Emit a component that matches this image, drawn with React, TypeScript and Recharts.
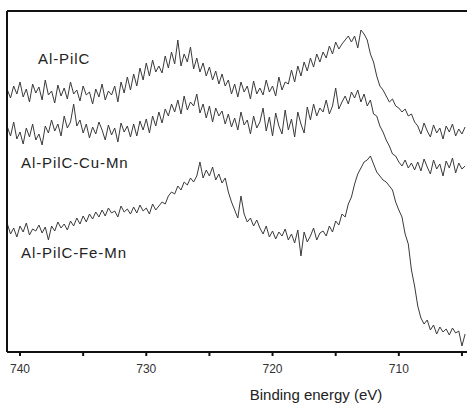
import React from "react";
import { LineChart, Line, XAxis, YAxis } from "recharts";

// Energy grid (eV): the scan starts at 741 eV and steps down by 0.25 eV
const energyStart = 741;
const energyStep = 0.25;

// Intensities (arbitrary units, offset per trace)
const alPilC = [
  262, 254, 266, 258, 270, 255, 263, 250, 268, 259,
  265, 252, 272, 257, 261, 249, 267, 256, 264, 253,
  270, 258, 262, 251, 266, 257, 260, 248, 263, 255,
  268, 252, 261, 257, 266, 250, 270, 259, 275, 262,
  278, 266, 284, 272, 289, 276, 292, 280, 286, 279,
  296, 284, 300, 288, 312, 286, 298, 290, 305, 283,
  294, 280, 289, 276, 285, 272, 281, 268, 278, 266,
  272, 258, 268, 255, 270, 260, 266, 253, 271, 258,
  264, 257, 272, 260, 266, 256, 275, 262, 270, 268,
  282, 270, 286, 276, 290, 281, 294, 285, 298, 290,
  300, 294, 306, 298, 310, 303, 308, 312, 316, 310,
  316, 304, 322, 318, 312, 298, 290, 276, 266, 262,
  256, 250, 253, 246, 244, 240, 243, 236, 238, 230,
  226, 218, 229, 221, 215, 227, 219, 224, 213, 226,
  220, 228, 216, 223, 218, 225,
];

const alPilCCuMn = [
  225, 216, 230, 213, 220, 208, 224, 215, 228, 212,
  218, 207, 226, 219, 232, 221, 228, 216, 236, 224,
  230, 248, 226, 232, 219, 228, 214, 225, 218, 230,
  222, 212, 227, 217, 224, 210, 229, 220, 226, 215,
  228, 216, 231, 222, 233, 219, 236, 226, 240, 229,
  243, 236, 248, 240, 252, 238, 256, 242, 250, 246,
  258, 239, 248, 234, 246, 230, 244, 236, 241, 228,
  238, 225, 234, 222, 240, 227, 232, 218, 236, 224,
  230, 244, 221, 235, 216, 239, 226, 218, 242, 222,
  233, 215, 240, 228, 219, 245, 232, 248, 236, 244,
  240, 252, 238, 246, 264, 243, 250, 256, 248, 260,
  254, 262, 250, 258, 246, 252, 238, 236, 226, 220,
  212, 206, 198, 196, 190, 186, 192, 184, 189, 182,
  190, 181, 193, 185, 178, 192, 183, 188, 176, 191,
  184, 194, 179, 189, 183, 186,
];

const alPilCFeMn = [
  128, 118, 124, 115, 126, 120, 129, 117, 123, 121,
  127, 119, 125, 112, 126, 121, 130, 124, 128, 122,
  131, 126, 134, 128, 136, 130, 138, 133, 140, 135,
  142, 136, 144, 139, 141, 135, 146, 140, 143, 138,
  145, 139, 147, 141, 144, 138, 148, 142, 146, 150,
  148, 156, 160, 158, 166, 162, 170, 167, 174, 170,
  176, 190, 174, 182, 176, 185, 172, 178, 169, 174,
  160, 150, 142, 134, 156, 138, 130, 134, 126, 132,
  124, 118, 126, 115, 121, 113, 120, 116, 123, 112,
  118, 109, 122, 96, 120, 110, 116, 124, 112, 119,
  121, 116, 126, 120, 131, 127, 138, 135, 148, 155,
  168, 178, 184, 190, 192, 196, 188, 180, 176, 172,
  170, 166, 162, 150, 142, 135, 118, 108, 82, 66,
  46, 34, 28, 32, 22, 27, 18, 25, 20, 23,
  17, 24, 19, 21, 6, 18,
];

const xTicks = [740, 735, 730, 725, 720, 715, 710, 705];
const seriesLabels = ["Al-PilC", "Al-PilC-Cu-Mn", "Al-PilC-Fe-Mn"];

const data = alPilC.map((v, i) => ({
  energy: energyStart - i * energyStep,
  a: v,
  b: alPilCCuMn[i],
  c: alPilCFeMn[i],
}));

const font = "'Liberation Sans', Arial, Helvetica, sans-serif";

const labelStyle: React.CSSProperties = {
  position: "absolute",
  fontFamily: font,
  fontSize: 15,
  letterSpacing: 0.9,
  color: "#222",
  lineHeight: "15px",
  whiteSpace: "nowrap",
};

export default function App() {
  return (
    <div style={{ position: "absolute", left: 0, top: 0, width: 467, height: 405, background: "#fff" }}>
      <LineChart width={467} height={405} data={data} margin={{ top: 10, right: 0, left: 6, bottom: 0 }}>
        <XAxis
          dataKey="energy"
          type="number"
          domain={[704.6, 741.03]}
          reversed
          ticks={xTicks}
          interval={0}
          tickFormatter={(v: number) => (v % 10 === 0 ? String(v) : "")}
          tickSize={4}
          tickMargin={8}
          height={53}
          axisLine={{ stroke: "#111", strokeWidth: 2 }}
          tickLine={{ stroke: "#111", strokeWidth: 2 }}
          tick={{ fill: "#333", fontSize: 12, fontFamily: font }}
          label={{
            value: "Binding energy (eV)",
            position: "insideBottom",
            offset: 5,
            dx: 79,
            fill: "#222",
            fontSize: 15,
            fontFamily: font,
          }}
        />
        <XAxis
          xAxisId="top"
          orientation="top"
          dataKey="energy"
          type="number"
          domain={[704.6, 741.03]}
          reversed
          height={1}
          tick={false}
          tickLine={false}
          axisLine={{ stroke: "#111", strokeWidth: 2 }}
        />
        <YAxis
          domain={[0, 341]}
          width={1}
          tick={false}
          tickLine={false}
          axisLine={{ stroke: "#111", strokeWidth: 2 }}
        />
        <Line dataKey="a" stroke="#3a3a3a" strokeWidth={1} dot={false} isAnimationActive={false} />
        <Line dataKey="b" stroke="#3a3a3a" strokeWidth={1} dot={false} isAnimationActive={false} />
        <Line dataKey="c" stroke="#3a3a3a" strokeWidth={1} dot={false} isAnimationActive={false} />
      </LineChart>
      <div style={{ ...labelStyle, left: 38, top: 51 }}>{seriesLabels[0]}</div>
      <div style={{ ...labelStyle, left: 21, top: 155 }}>{seriesLabels[1]}</div>
      <div style={{ ...labelStyle, left: 21, top: 245 }}>{seriesLabels[2]}</div>
    </div>
  );
}
